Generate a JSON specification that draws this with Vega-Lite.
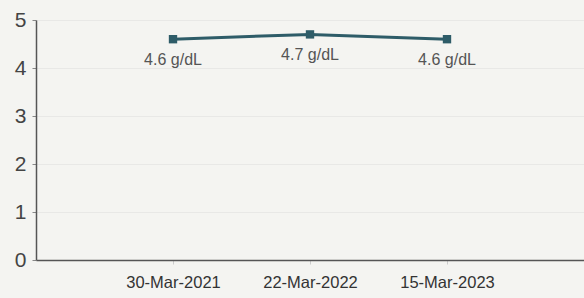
{
  "$schema": "https://vega.github.io/schema/vega-lite/v6.json",
  "autosize": "none",
  "width": 548,
  "height": 240,
  "padding": {"left": 36, "top": 20, "right": 0, "bottom": 38},
  "background": "#f4f4f1",
  "config": {"view": {"stroke": null}, "font": "Liberation Sans"},
  "data": {"values": [
    {"date": "30-Mar-2021", "value": 4.6, "label": "4.6 g/dL"},
    {"date": "22-Mar-2022", "value": 4.7, "label": "4.7 g/dL"},
    {"date": "15-Mar-2023", "value": 4.6, "label": "4.6 g/dL"}
  ]},
  "encoding": {
    "x": {"field": "date", "type": "ordinal", "sort": null,
      "scale": {"type": "point", "padding": 1},
      "axis": {"title": null, "labelAngle": 0, "labelFontSize": 16.5, "labelColor": "#333",
        "domainColor": "#555", "domainWidth": 1.5, "tickSize": 4, "tickColor": "#ccc",
        "labelPadding": 10, "grid": false}},
    "y": {"field": "value", "type": "quantitative",
      "scale": {"domain": [0, 5], "nice": false},
      "axis": {"title": null, "values": [0, 1, 2, 3, 4, 5], "labelFontSize": 21, "labelColor": "#444",
        "domainColor": "#555", "domainWidth": 1.5, "tickSize": 4, "tickColor": "#888",
        "labelPadding": 6, "grid": true, "gridColor": "#e8e8e6", "labelBaseline": "middle"}}
  },
  "layer": [
    {"mark": {"type": "line", "color": "#2e5c68", "strokeWidth": 3}},
    {"mark": {"type": "square", "color": "#2e5c68", "filled": true, "opacity": 1, "size": 70}},
    {"mark": {"type": "text", "dy": 21, "fontSize": 16, "color": "#555"},
      "encoding": {"text": {"field": "label"}}}
  ]
}
